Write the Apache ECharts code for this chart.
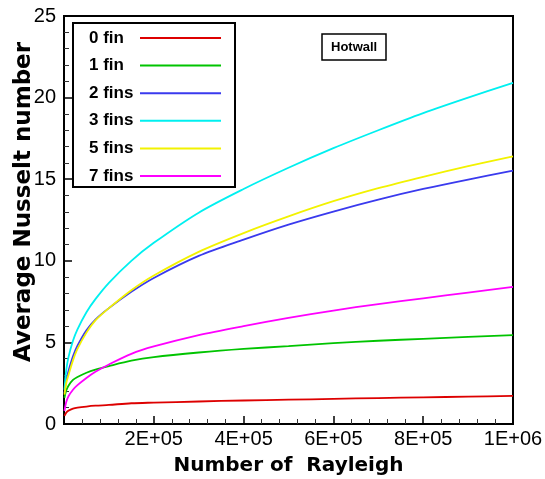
<!DOCTYPE html>
<html>
<head>
<meta charset="utf-8">
<script src="https://cdn.jsdelivr.net/npm/echarts@6/dist/echarts.min.js"></script>
<style>
  html, body { margin: 0; padding: 0; background: #fff; }
  #chart { width: 545px; height: 479px; }
</style>
</head>
<body>
<div id="chart"></div>
<script>
// Rayleigh numbers at which the average Nusselt number was sampled
const rayleigh = [1e3, 5e3, 1e4, 2e4, 3e4, 5e4, 7e4, 1e5, 1.5e5, 2e5, 3e5, 4e5, 5e5, 6e5, 7e5, 8e5, 9e5, 1e6];

// Average Nusselt number on the hot wall, one array per fin count
const nu0fin  = [0.50, 0.70, 0.82, 0.94, 1.00, 1.07, 1.12, 1.17, 1.27, 1.31, 1.38, 1.44, 1.49, 1.54, 1.59, 1.63, 1.68, 1.72];
const nu1fin  = [1.60, 2.05, 2.35, 2.70, 2.88, 3.14, 3.33, 3.55, 3.88, 4.10, 4.38, 4.60, 4.77, 4.95, 5.10, 5.22, 5.34, 5.45];
const nu2fins = [1.90, 2.70, 3.25, 4.15, 4.80, 5.75, 6.40, 7.10, 8.10, 8.95, 10.30, 11.30, 12.22, 13.02, 13.75, 14.40, 14.98, 15.52];
const nu3fins = [2.10, 3.30, 4.10, 5.10, 5.80, 6.85, 7.65, 8.65, 10.00, 11.10, 12.95, 14.40, 15.70, 16.90, 18.00, 19.05, 20.00, 20.90];
const nu5fins = [1.80, 2.50, 3.00, 3.90, 4.60, 5.60, 6.35, 7.10, 8.20, 9.10, 10.55, 11.70, 12.72, 13.65, 14.45, 15.15, 15.80, 16.40];
const nu7fins = [0.80, 1.35, 1.70, 2.10, 2.38, 2.82, 3.20, 3.65, 4.30, 4.75, 5.45, 6.00, 6.50, 6.95, 7.35, 7.70, 8.05, 8.40];

const seriesNames  = ['0 fin', '1 fin', '2 fins', '3 fins', '5 fins', '7 fins'];
const seriesValues = [nu0fin, nu1fin, nu2fins, nu3fins, nu5fins, nu7fins];
const seriesColors = ['#dd0000', '#00c400', '#3a3aee', '#00f0f0', '#f2f200', '#ff00ff'];

const yTicks = { min: 0, max: 25, step: 5 };
const xTicks = { min: 0, max: 1e6, step: 2e5 };

// "2E+05" style labels, zero left blank
function sci(v) {
  if (v === 0) return '';
  const e = Math.floor(Math.log10(v) + 1e-9);
  const m = Math.round(v / Math.pow(10, e) * 100) / 100;
  return m + 'E+' + (e < 10 ? '0' + e : e);
}

const chart = echarts.init(document.getElementById('chart'), null, { renderer: 'canvas' });

const series = seriesNames.map((name, i) => ({
  name: name,
  type: 'line',
  smooth: 0.3,
  symbol: 'none',
  color: seriesColors[i],
  lineStyle: { width: 1.8, color: seriesColors[i] },
  data: rayleigh.map((ra, k) => [ra, seriesValues[i][k]])
}));

const option = {
  animation: false,
  backgroundColor: '#ffffff',
  grid: {
    left: 64, right: 32, top: 16, bottom: 55,
    containLabel: false,
    outerBoundsMode: 'none',
    show: true, borderColor: '#000', borderWidth: 2, backgroundColor: 'transparent'
  },
  title: {
    text: 'Hotwall',
    left: 322, top: 34,
    padding: [7, 9, 6, 9],
    borderColor: '#000', borderWidth: 1.5,
    textStyle: { fontFamily: 'Liberation Sans', fontWeight: 'bold', fontSize: 13, color: '#000' }
  },
  legend: {
    orient: 'vertical',
    left: 73, top: 23,
    align: 'right',
    icon: 'rect',
    itemWidth: 81, itemHeight: 2,
    itemGap: 7.6,
    padding: [5, 14, 1, 16],
    backgroundColor: '#fff',
    borderColor: '#000', borderWidth: 2,
    data: seriesNames,
    formatter: '{t|{name}}',
    textStyle: {
      fontFamily: 'Liberation Sans', fontWeight: 'bold', fontSize: 17,
      color: '#000', lineHeight: 20,
      rich: {
        t: {
          width: 46, align: 'left',
          fontFamily: 'Liberation Sans', fontWeight: 'bold', fontSize: 17,
          color: '#000', lineHeight: 20
        }
      }
    }
  },
  xAxis: {
    type: 'value',
    min: xTicks.min, max: xTicks.max, interval: xTicks.step,
    name: 'Number of  Rayleigh',
    nameLocation: 'middle',
    nameGap: 32,
    nameMoveOverlap: false,
    nameTextStyle: { fontFamily: 'DejaVu Sans', fontWeight: 'bold', fontSize: 20, color: '#000' },
    axisLine: { lineStyle: { color: '#000', width: 2 } },
    axisTick: { inside: true, length: 8, lineStyle: { color: '#000', width: 1.5 } },
    minorTick: { show: true, splitNumber: 5, length: 5, lineStyle: { color: '#333', width: 1 } },
    splitLine: { show: false },
    axisLabel: {
      formatter: sci, margin: 5,
      fontFamily: 'Liberation Sans', fontSize: 20, color: '#000'
    }
  },
  yAxis: {
    type: 'value',
    min: yTicks.min, max: yTicks.max, interval: yTicks.step,
    name: 'Average Nusselt number',
    nameLocation: 'middle',
    nameGap: 28,
    nameMoveOverlap: false,
    nameTextStyle: { fontFamily: 'DejaVu Sans', fontWeight: 'bold', fontSize: 23, color: '#000', padding: [0, 0, 0, 36] },
    axisLine: { lineStyle: { color: '#000', width: 2 } },
    axisTick: { inside: true, length: 8, lineStyle: { color: '#000', width: 1.5 } },
    minorTick: { show: true, splitNumber: 5, length: 5, lineStyle: { color: '#333', width: 1 } },
    splitLine: { show: false },
    axisLabel: { margin: 8, fontFamily: 'Liberation Sans', fontSize: 20, color: '#000' }
  },
  series: series
};

chart.setOption(option);
</script>
</body>
</html>
